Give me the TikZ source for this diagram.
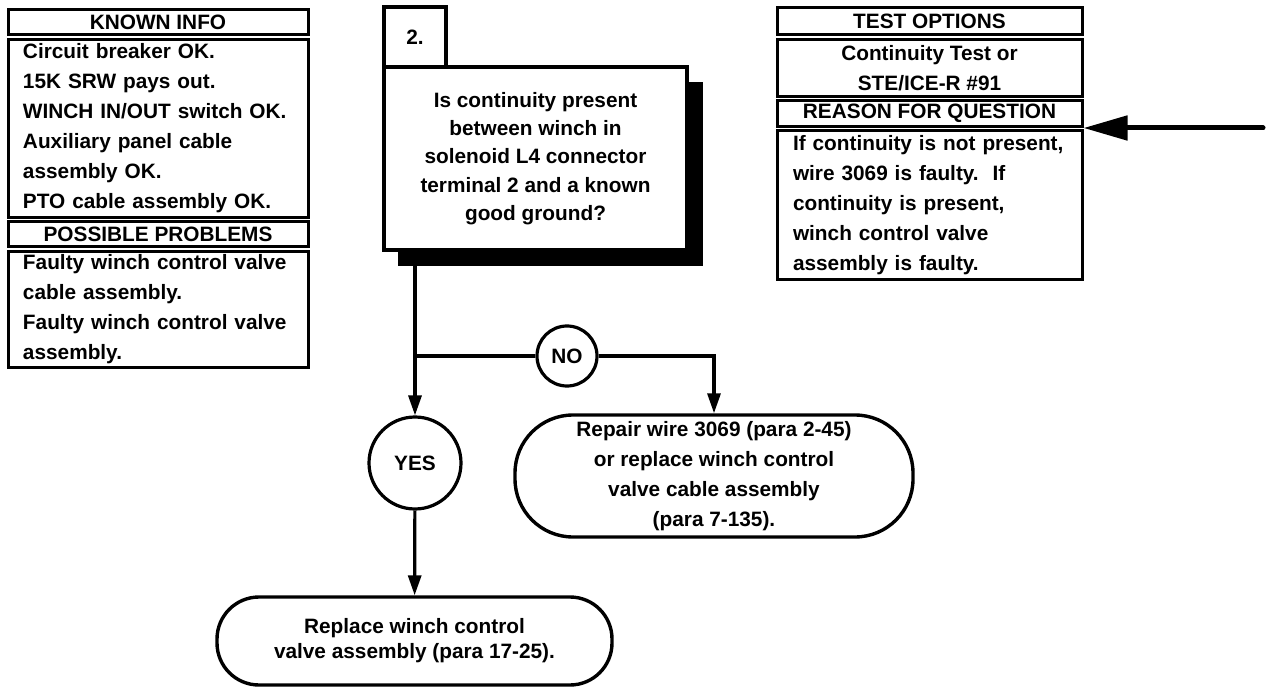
\documentclass[tikz,border=0pt]{standalone}
\usepackage{fontspec}
\setmainfont{Liberation Sans}
\usetikzlibrary{arrows.meta}

\begin{document}
\begin{tikzpicture}[x=0.5pt,y=0.5pt,yscale=-1,
  txt/.style={font=\bfseries\fontsize{10.4}{15}\selectfont},
  box/.style={draw, line width=1.5pt, inner sep=0pt, fill=white, txt},
  hdr/.style={box, minimum height=12.5pt},
  body/.style={box, align=left, inner xsep=7.5pt},
  ring/.style={box, circle, line width=1.6pt},
  endbox/.style={box, align=center, line width=1.7pt},
  link/.style={line width=1.6pt},
  flow/.style={link, -{Triangle[length=10pt,width=6.5pt]}},
  feedarrow/.style={line width=2.5pt, line cap=round, -{Triangle[length=22pt,width=12pt]}}]
\path[use as bounding box] (0,0) rectangle (1268,689);

% known info column
\node[hdr, minimum width=150pt] (knownhd) at (158,22) {KNOWN INFO};
\node[body, text width=135pt, minimum height=89pt] (known) at (158,128.5)
  {Circuit breaker OK.\\15K SRW pays out.\\WINCH IN/OUT switch OK.\\Auxiliary panel cable\\assembly OK.\\PTO cable assembly OK.};
\node[hdr, minimum width=150pt] (probhd) at (158,234) {POSSIBLE PROBLEMS};
\node[body, text width=135pt, minimum height=58pt] (prob) at (158,309.5)
  {Faulty winch control valve\\cable assembly.\\Faulty winch control valve\\assembly.};

% test options column
\node[hdr, minimum width=152.5pt, minimum height=13.5pt] (testhd) at (929.5,21) {TEST OPTIONS};
\node[box, align=center, minimum width=152.5pt, minimum height=28.5pt] (test) at (929.5,68)
  {Continuity Test or\\STE/ICE-R \#91};
\node[hdr, minimum width=152.5pt, minimum height=13pt] (reasonhd) at (929.5,113.5) {REASON FOR QUESTION};
\node[body, inner xsep=8pt, text width=136.5pt, minimum height=74.5pt] (reasonbody) at (929.5,205)
  {If continuity is not present,\\wire 3069 is faulty.\ \ If\\continuity is present,\\winch control valve\\assembly is faulty.};

\coordinate (feed) at (1263,128);
\draw[feedarrow] (feed) -- (feed -| reasonbody.east);

% question with its shadow and number tab
\node[fill=black, inner sep=0pt, minimum width=152.5pt, minimum height=92pt] (qshadow) at (550.5,174) {};
\node[box, align=center, line width=1.7pt, minimum width=151.5pt, minimum height=91.5pt,
  font=\bfseries\fontsize{10.4}{14.2}\selectfont] (question) at (535.5,158.5)
  {Is continuity present\\between winch in\\solenoid L4 connector\\terminal 2 and a known\\good ground?};
\node[box, line width=1.7pt, minimum width=31pt, minimum height=30pt] (qnum) at (415,37) {2.};

% answers
\node[ring, minimum size=30pt] (no) at (567,356) {NO};
\node[ring, minimum size=46pt] (yes) at (415,463) {YES};
\node[endbox, rounded corners=29pt, minimum width=199pt, minimum height=61pt] (repair) at (714,476)
  {Repair wire 3069 (para 2-45)\\or replace winch control\\valve cable assembly\\(para 7-135).};
\node[endbox, rounded corners=21pt, minimum width=197.5pt, minimum height=44pt,
  font=\bfseries\fontsize{10.4}{12.5}\selectfont] (fix) at (414.5,641)
  {Replace winch control\\valve assembly (para 17-25).};

\coordinate (split) at (415,356);
\draw[link] (qshadow.south -| split) -- (split) -- (no);
\draw[flow] (split) -- (yes);
\draw[flow] (no) -| (repair);
\draw[flow] (yes) -- (fix);
\end{tikzpicture}
\end{document}
